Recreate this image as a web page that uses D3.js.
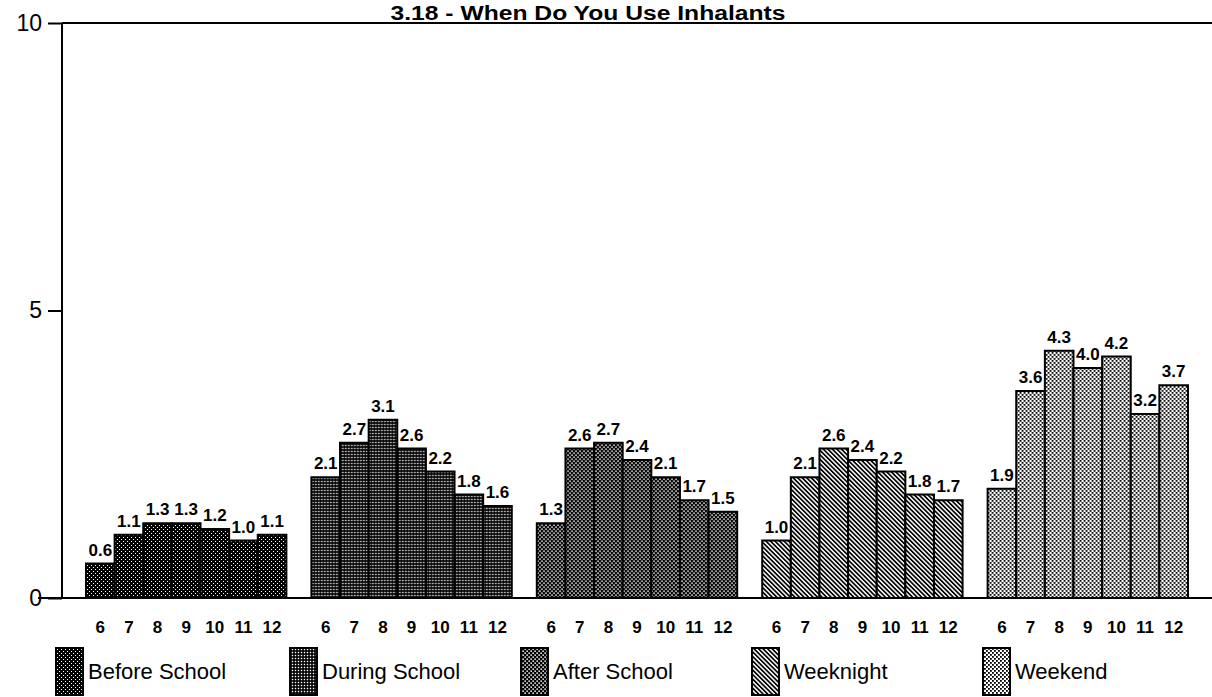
<!DOCTYPE html>
<html>
<head>
<meta charset="utf-8">
<script src="https://cdn.jsdelivr.net/npm/d3@7"></script>
<style>
html,body{margin:0;padding:0;background:#fff;}
svg{display:block;font-family:"Liberation Sans",Arial,Helvetica,sans-serif;}
</style>
</head>
<body>
<svg id="chart" width="1212" height="697"></svg>
<script>
const title = "3.18 - When Do You Use Inhalants";
const groups = ["Before School", "During School", "After School", "Weeknight", "Weekend"];
const grades = ["6", "7", "8", "9", "10", "11", "12"];
const beforeSchool = [0.6, 1.1, 1.3, 1.3, 1.2, 1.0, 1.1];
const duringSchool = [2.1, 2.7, 3.1, 2.6, 2.2, 1.8, 1.6];
const afterSchool  = [1.3, 2.6, 2.7, 2.4, 2.1, 1.7, 1.5];
const weeknight    = [1.0, 2.1, 2.6, 2.4, 2.2, 1.8, 1.7];
const weekend      = [1.9, 3.6, 4.3, 4.0, 4.2, 3.2, 3.7];
const yTicks = [0, 5, 10];

const seriesValues = [beforeSchool, duringSchool, afterSchool, weeknight, weekend];
const patternIds = ["pBefore", "pDuring", "pAfter", "pWeeknight", "pWeekend"];

const svg = d3.select("#chart");
const defs = svg.append("defs");

// Before School: black with sparse white dots
let p = defs.append("pattern").attr("id", "pBefore").attr("patternUnits", "userSpaceOnUse").attr("width", 4).attr("height", 4);
p.append("rect").attr("width", 4).attr("height", 4).attr("fill", "#000");
p.append("rect").attr("x", 1).attr("y", 1).attr("width", 1).attr("height", 1).attr("fill", "#fff");
p.append("rect").attr("x", 3).attr("y", 3).attr("width", 1).attr("height", 1).attr("fill", "#fff");

// During School: dark stipple
p = defs.append("pattern").attr("id", "pDuring").attr("patternUnits", "userSpaceOnUse").attr("width", 3).attr("height", 3);
p.append("rect").attr("width", 3).attr("height", 3).attr("fill", "#000");
p.append("rect").attr("x", 0.8).attr("y", 0.8).attr("width", 1.4).attr("height", 1.4).attr("fill", "#fff");

// After School: dark stipple, offset dots
p = defs.append("pattern").attr("id", "pAfter").attr("patternUnits", "userSpaceOnUse").attr("width", 4).attr("height", 4);
p.append("rect").attr("width", 4).attr("height", 4).attr("fill", "#000");
p.append("rect").attr("x", 0.4).attr("y", 0.4).attr("width", 1.5).attr("height", 1.5).attr("fill", "#fff");
p.append("rect").attr("x", 2.4).attr("y", 2.4).attr("width", 1.5).attr("height", 1.5).attr("fill", "#fff");

// Weeknight: diagonal hatching
p = defs.append("pattern").attr("id", "pWeeknight").attr("patternUnits", "userSpaceOnUse").attr("width", 3.2).attr("height", 3.2).attr("patternTransform", "rotate(-45)");
p.append("rect").attr("width", 3.2).attr("height", 3.2).attr("fill", "#fff");
p.append("rect").attr("width", 1.7).attr("height", 3.2).attr("fill", "#000");

// Weekend: light stipple
p = defs.append("pattern").attr("id", "pWeekend").attr("patternUnits", "userSpaceOnUse").attr("width", 4).attr("height", 4);
p.append("rect").attr("width", 4).attr("height", 4).attr("fill", "#fff");
p.append("rect").attr("x", 0).attr("y", 0).attr("width", 1.8).attr("height", 1.8).attr("fill", "#000");
p.append("rect").attr("x", 2).attr("y", 2).attr("width", 1.8).attr("height", 1.8).attr("fill", "#000");

const y = d3.scaleLinear().domain([0, 10]).range([598, 23]);
const x0 = d3.scaleBand().domain(groups).range([86, 1188]).paddingInner(0.111).paddingOuter(0);
const x1 = d3.scaleBand().domain(grades).range([0, x0.bandwidth()]).padding(0);

// Title
svg.append("text").attr("x", 588).attr("y", 20).attr("text-anchor", "middle")
  .attr("font-size", 20).attr("font-weight", "bold")
  .attr("textLength", 395).attr("lengthAdjust", "spacingAndGlyphs")
  .text(title);

// Frame lines
svg.append("line").attr("x1", 62).attr("x2", 1212).attr("y1", y(10)).attr("y2", y(10)).attr("stroke", "#000").attr("stroke-width", 2);
svg.append("line").attr("x1", 38).attr("x2", 1212).attr("y1", y(0)).attr("y2", y(0)).attr("stroke", "#000").attr("stroke-width", 2);
svg.append("line").attr("x1", 62).attr("x2", 62).attr("y1", y(10)).attr("y2", y(0)).attr("stroke", "#000").attr("stroke-width", 2);

// Y axis
const yAxis = svg.append("g").attr("transform", "translate(62,0)")
  .call(d3.axisLeft(y).tickValues(yTicks).tickSize(14).tickPadding(6).tickFormat(d3.format("d")));
yAxis.select(".domain").remove();
yAxis.selectAll(".tick line").attr("stroke", "#000").attr("stroke-width", 2);
yAxis.selectAll(".tick text").attr("font-size", 23).attr("fill", "#000")
  .attr("font-family", "Liberation Sans, Arial, sans-serif");

// Bars
groups.forEach((g, gi) => {
  const vals = seriesValues[gi];
  const gg = svg.append("g").attr("transform", `translate(${x0(g)},0)`);
  gg.selectAll("rect").data(vals).join("rect")
    .attr("x", (d, i) => x1(grades[i]))
    .attr("y", d => y(d))
    .attr("width", x1.bandwidth())
    .attr("height", d => y(0) - y(d))
    .attr("fill", `url(#${patternIds[gi]})`)
    .attr("stroke", "#000").attr("stroke-width", 2);
  gg.selectAll("text.val").data(vals).join("text").attr("class", "val")
    .attr("x", (d, i) => x1(grades[i]) + x1.bandwidth() / 2)
    .attr("y", d => y(d) - 8)
    .attr("text-anchor", "middle")
    .attr("font-size", 17).attr("font-weight", "bold")
    .text(d => d.toFixed(1));
  const xa = gg.append("g").attr("transform", `translate(0,${y(0)})`)
    .call(d3.axisBottom(x1).tickSize(0).tickPadding(23));
  xa.select(".domain").remove();
  xa.selectAll(".tick text").attr("font-size", 17).attr("font-weight", "bold").attr("fill", "#000")
    .attr("font-family", "Liberation Sans, Arial, sans-serif");
});

// Legend
const legendX = [56, 290, 521, 752, 983];
const lg = svg.append("g");
groups.forEach((g, gi) => {
  lg.append("rect").attr("x", legendX[gi]).attr("y", 648).attr("width", 27).attr("height", 47)
    .attr("fill", `url(#${patternIds[gi]})`).attr("stroke", "#000").attr("stroke-width", 2);
  lg.append("text").attr("x", legendX[gi] + 32).attr("y", 679)
    .attr("font-size", 22).text(g);
});
</script>
</body>
</html>
